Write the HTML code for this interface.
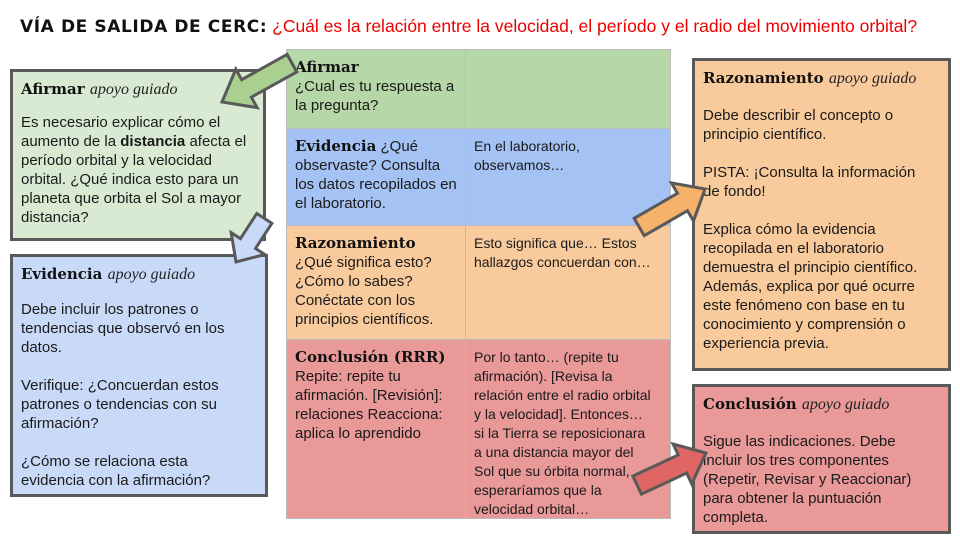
<!DOCTYPE html>
<html><head><meta charset="utf-8"><style>
body{margin:0;width:960px;height:540px;background:#fff;position:relative;overflow:hidden;font-family:"Liberation Sans",sans-serif;color:#222}
.t{position:absolute;left:20px;top:16px;font-size:17.5px;white-space:nowrap}
.t b{font-family:"DejaVu Sans",sans-serif;font-weight:900;color:#111;font-size:17px;letter-spacing:0.6px}
.t span{color:#e00}
.box{position:absolute;border:3px solid #595959;box-sizing:border-box;padding:8px 8px;font-size:15px;line-height:19px;color:#1a1a1a}
.rb{padding:8px 20px 8px 8px}
.h{font-family:"DejaVu Serif",serif;font-weight:bold;font-size:15px;color:#111}
.g{font-family:"Liberation Serif",serif;font-style:italic;font-size:16px;color:#222;font-weight:normal}
.box p{margin:0}
.c{position:absolute;box-sizing:border-box;border-right:1px solid #bbb;border-bottom:1px solid #bbb;padding:8px 8px;font-size:15px;line-height:19px;color:#1a1a1a}
.r{font-size:14px;line-height:19px;padding:8px 14px 8px 8px}
</style></head><body>
<div class="t"><b>VÍA DE SALIDA DE CERC:</b> <span>¿Cuál es la relación entre la velocidad, el período y el radio del movimiento orbital?</span></div>

<div class="box" style="left:10px;top:69px;width:256px;height:172px;background:#d9ead3">
<div class="h">Afirmar <span class="g">apoyo guiado</span></div>
<p style="margin-top:14px">Es necesario explicar cómo el aumento de la <b>distancia</b> afecta el período orbital y la velocidad orbital. ¿Qué indica esto para un planeta que orbita el Sol a mayor distancia?</p></div>

<div class="box" style="left:10px;top:254px;width:258px;height:243px;background:#c9daf8;padding-right:16px">
<div class="h">Evidencia <span class="g">apoyo guiado</span></div>
<p style="margin-top:16px">Debe incluir los patrones o tendencias que observó en los datos.</p>
<p style="margin-top:19px">Verifique: ¿Concuerdan estos patrones o tendencias con su afirmación?</p>
<p style="margin-top:19px">¿Cómo se relaciona esta evidencia con la afirmación?</p></div>

<div class="box rb" style="left:692px;top:58px;width:259px;height:313px;background:#f9cb9c">
<div class="h">Razonamiento <span class="g">apoyo guiado</span></div>
<p style="margin-top:18px">Debe describir el concepto o principio científico.</p>
<p style="margin-top:19px">PISTA: ¡Consulta la información de fondo!</p>
<p style="margin-top:19px">Explica cómo la evidencia recopilada en el laboratorio demuestra el principio científico. Además, explica por qué ocurre este fenómeno con base en tu conocimiento y comprensión o experiencia previa.</p></div>

<div class="box rb" style="left:692px;top:384px;width:259px;height:150px;background:#ea9999">
<div class="h">Conclusión <span class="g">apoyo guiado</span></div>
<p style="margin-top:18px">Sigue las indicaciones. Debe incluir los tres componentes (Repetir, Revisar y Reaccionar) para obtener la puntuación completa.</p></div>

<div class="c" style="left:286px;top:49px;width:180px;height:80px;background:#b6d7a8;border-left:1px solid #bbb;border-top:1px solid #bbb"><div class="h">Afirmar</div>¿Cual es tu respuesta a la pregunta?</div>
<div class="c" style="left:466px;top:49px;width:205px;height:80px;background:#b6d7a8;border-top:1px solid #bbb"></div>
<div class="c" style="left:286px;top:129px;width:180px;height:97px;background:#a4c2f4;border-left:1px solid #bbb"><span class="h">Evidencia</span> ¿Qué observaste? Consulta los datos recopilados en el laboratorio.</div>
<div class="c r" style="left:466px;top:129px;width:205px;height:97px;background:#a4c2f4">En el laboratorio, observamos…</div>
<div class="c" style="left:286px;top:226px;width:180px;height:114px;background:#f9cb9c;border-left:1px solid #bbb"><div class="h">Razonamiento</div>¿Qué significa esto? ¿Cómo lo sabes? Conéctate con los principios científicos.</div>
<div class="c r" style="left:466px;top:226px;width:205px;height:114px;background:#f9cb9c">Esto significa que… Estos hallazgos concuerdan con…</div>
<div class="c" style="left:286px;top:340px;width:180px;height:179px;background:#ea9999;border-left:1px solid #bbb"><div class="h">Conclusión (RRR)</div>Repite: repite tu afirmación. [Revisión]: relaciones Reacciona: aplica lo aprendido</div>
<div class="c r" style="left:466px;top:340px;width:205px;height:179px;background:#ea9999">Por lo tanto… (repite tu afirmación). [Revisa la relación entre el radio orbital y la velocidad]. Entonces… si la Tierra se reposicionara a una distancia mayor del Sol que su órbita normal, esperaríamos que la velocidad orbital…</div>

<svg width="960" height="540" style="position:absolute;left:0;top:0" >
<g stroke="#595959" stroke-width="3" stroke-linejoin="miter">
<polygon transform="translate(222,102) rotate(151) translate(-80,0)" points="0,-10 52,-10 52,-22 80,0 52,22 52,10 0,10" fill="#a9d08e"/>
<polygon transform="translate(236,262) rotate(123) translate(-52,0)" points="0,-9 30,-9 30,-20 52,0 30,20 30,9 0,9" fill="#c9daf8"/>
<polygon transform="translate(705,189) rotate(-30) translate(-76,0)" points="0,-10 50,-10 50,-22 76,0 50,22 50,10 0,10" fill="#f6b26b"/>
<polygon transform="translate(706,453) rotate(-25) translate(-76,0)" points="0,-10 50,-10 50,-22 76,0 50,22 50,10 0,10" fill="#e06666"/>
</g></svg>
</body></html>
